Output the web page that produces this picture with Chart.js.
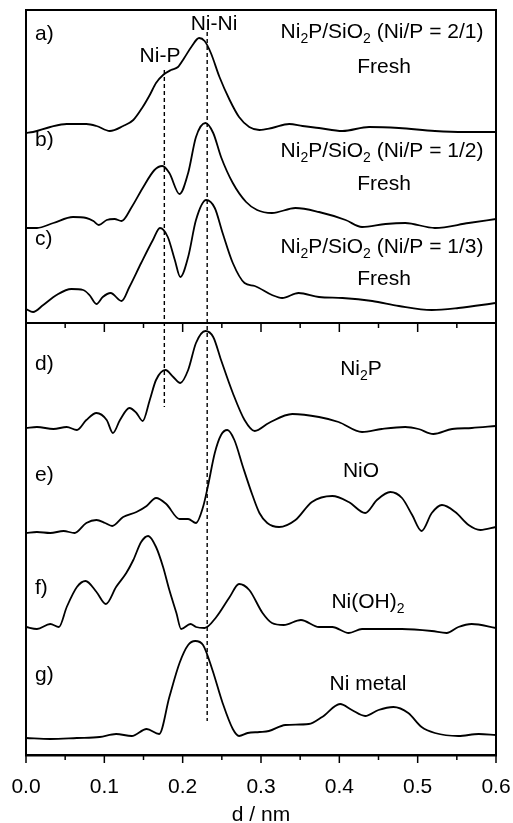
<!DOCTYPE html>
<html><head><meta charset="utf-8">
<script src="https://cdn.jsdelivr.net/npm/chart.js@4.4.1/dist/chart.umd.min.js"></script>
<style>html,body{margin:0;padding:0;background:#fff;}#wrap{width:513px;height:823px;position:relative;}</style>
</head><body><div id="wrap"><canvas id="c"></canvas></div>
<script>
// ---- data (d / nm vs. stacked FT magnitude, arbitrary units) ----
const xMajorTicks = [0, 0.1, 0.2, 0.3, 0.4, 0.5, 0.6];
const xMinorTicks = [0.05, 0.15, 0.25, 0.35, 0.45, 0.55];
const panelDividerY = 432;

const aX = [0,0.009,0.031,0.052,0.077,0.090,0.107,0.124,0.137,0.149,0.158,0.166,0.175,0.185,0.194,0.202,0.211,0.221,0.228,0.236,0.247,0.260,0.272,0.285,0.298,0.314,0.336,0.353,0.374,0.404,0.438,0.476,0.522,0.560,0.600];
const aY = [622,623,628,631,631,629,624,629,635,648,660,672,680,685,688,697,708,717,714,702,678,655,638,628,625,627,631,629,627,624,628,627,624,623,623];

const bX = [0,0.014,0.035,0.060,0.077,0.086,0.093,0.103,0.113,0.122,0.135,0.149,0.164,0.174,0.183,0.196,0.207,0.217,0.229,0.239,0.249,0.264,0.281,0.295,0.314,0.344,0.374,0.408,0.429,0.459,0.484,0.522,0.565,0.600];
const bY = [527,527,532,538,537,534,530,535,536,534,548,567,585,589,582,561,582,618,632,622,598,572,553,545,542,547,543,535,528,531,532,527,532,536];

const cX = [0,0.009,0.022,0.039,0.058,0.073,0.081,0.090,0.098,0.108,0.122,0.132,0.147,0.162,0.171,0.181,0.190,0.197,0.207,0.217,0.230,0.241,0.251,0.264,0.279,0.292,0.314,0.327,0.348,0.374,0.404,0.442,0.476,0.518,0.552,0.600];
const cY = [446,443,450,460,466,465,460,451,458,462,454,468,492,515,527,518,495,478,498,535,555,547,522,492,472,469,460,457,462,458,457,454,449,445,447,452];

const dX = [0,0.014,0.035,0.052,0.065,0.077,0.090,0.103,0.111,0.120,0.132,0.141,0.149,0.158,0.166,0.178,0.188,0.197,0.207,0.217,0.229,0.239,0.249,0.264,0.279,0.292,0.310,0.340,0.374,0.399,0.429,0.454,0.484,0.501,0.520,0.544,0.569,0.600];
const dY = [327,328,326,328,325,335,342,335,322,335,347,342,334,355,375,385,378,372,385,412,424,418,395,362,335,324,332,341,338,333,323,326,328,326,321,326,327,329];

const eX = [0,0.014,0.031,0.048,0.062,0.077,0.090,0.101,0.110,0.124,0.141,0.154,0.166,0.179,0.196,0.207,0.217,0.226,0.232,0.241,0.249,0.257,0.266,0.277,0.289,0.298,0.308,0.323,0.344,0.365,0.391,0.412,0.433,0.448,0.465,0.480,0.493,0.505,0.518,0.531,0.548,0.565,0.580,0.600];
const eY = [222,223,222,224,222,232,235,232,229,238,243,249,257,251,236,236,232,248,268,302,320,325,315,288,260,242,232,228,235,253,259,253,242,255,263,257,240,224,242,250,243,230,225,228];

const fX = [0,0.014,0.031,0.042,0.052,0.065,0.076,0.090,0.102,0.115,0.128,0.137,0.147,0.156,0.166,0.175,0.183,0.192,0.198,0.210,0.217,0.228,0.243,0.260,0.272,0.285,0.302,0.314,0.329,0.351,0.374,0.391,0.412,0.429,0.480,0.518,0.537,0.552,0.569,0.600];
const fY = [128,126,131,128,148,168,174,163,151,168,182,195,213,219,208,188,165,142,126,131,128,127,138,158,171,165,142,132,130,135,128,128,122,126,126,124,122,128,131,127];

const gX = [0,0.031,0.065,0.094,0.115,0.135,0.154,0.170,0.183,0.196,0.207,0.216,0.226,0.238,0.251,0.264,0.272,0.283,0.298,0.310,0.331,0.361,0.378,0.401,0.416,0.433,0.450,0.469,0.488,0.505,0.522,0.552,0.578,0.600];
const gY = [17,16,17,18,21,19,26,21,58,92,110,114,110,85,52,26,19,22,23,24,30,31,38,51,45,39,45,48,42,28,22,19,21,20];

const niPLineX = [0.1766, 0.1766];
const niPLineY = [685, 348];
const niNiLineX = [0.2313, 0.2313];
const niNiLineY = [723, 34];

const FONT = '"Liberation Sans", Arial, Helvetica, sans-serif';

function pts(xs, ys) { return xs.map((x, i) => ({x: x, y: ys[i]})); }
function curve(xs, ys) {
  return {data: pts(xs, ys), borderColor: '#000', borderWidth: 1.8, pointRadius: 0,
          cubicInterpolationMode: 'monotone', fill: false};
}
function dashed(xs, ys) {
  return {data: pts(xs, ys), borderColor: '#000', borderWidth: 1.4, pointRadius: 0,
          borderDash: [4, 3], tension: 0, fill: false};
}

// rich-text pieces: [text, isSubscript]
function drawRich(ctx, parts, cx, baseY, size) {
  const subSize = Math.round(size * 0.66);
  let total = 0;
  const widths = parts.map(p => {
    ctx.font = (p[1] ? subSize : size) + 'px ' + FONT;
    const w = ctx.measureText(p[0]).width;
    total += w;
    return w;
  });
  let x = cx - total / 2;
  ctx.textAlign = 'left';
  ctx.textBaseline = 'alphabetic';
  parts.forEach((p, i) => {
    ctx.font = (p[1] ? subSize : size) + 'px ' + FONT;
    ctx.fillText(p[0], x, baseY + (p[1] ? 5 : 0));
    x += widths[i];
  });
}

const decor = {
  id: 'decor',
  afterDatasetsDraw(chart) {
    const ctx = chart.ctx;
    const a = chart.chartArea;
    const xs = chart.scales.x, ys = chart.scales.y;
    ctx.save();
    ctx.strokeStyle = '#000';
    ctx.fillStyle = '#000';
    // frame
    ctx.lineWidth = 2;
    ctx.beginPath();
    ctx.moveTo(a.left, a.bottom); ctx.lineTo(a.left, a.top);
    ctx.lineTo(a.right, a.top); ctx.lineTo(a.right, a.bottom);
    ctx.stroke();
    // divider between panels
    const dy = ys.getPixelForValue(panelDividerY);
    ctx.lineWidth = 2;
    ctx.beginPath(); ctx.moveTo(a.left, dy); ctx.lineTo(a.right, dy); ctx.stroke();
    ctx.lineWidth = 1.5;
    xMajorTicks.forEach(v => {
      const px = xs.getPixelForValue(v);
      ctx.beginPath(); ctx.moveTo(px, dy); ctx.lineTo(px, dy + 9); ctx.stroke();
      ctx.beginPath(); ctx.moveTo(px, a.bottom); ctx.lineTo(px, a.bottom + 8); ctx.stroke();
    });
    xMinorTicks.forEach(v => {
      const px = xs.getPixelForValue(v);
      ctx.beginPath(); ctx.moveTo(px, dy); ctx.lineTo(px, dy + 5); ctx.stroke();
      ctx.beginPath(); ctx.moveTo(px, a.bottom); ctx.lineTo(px, a.bottom + 5); ctx.stroke();
    });

    const S = 21;
    // panel letters
    ctx.font = S + 'px ' + FONT;
    ctx.textAlign = 'left';
    ctx.textBaseline = 'alphabetic';
    [['a)', 40], ['b)', 146], ['c)', 245], ['d)', 370], ['e)', 481], ['f)', 594], ['g)', 681]]
      .forEach(l => ctx.fillText(l[0], a.left + 9, l[1]));
    // peak labels
    drawRich(ctx, [['Ni-P', 0]], 160, 62, S);
    drawRich(ctx, [['Ni-Ni', 0]], 214, 30, S);
    // sample labels
    const cxR = 382;
    drawRich(ctx, [['Ni', 0], ['2', 1], ['P/SiO', 0], ['2', 1], [' (Ni/P = 2/1)', 0]], cxR, 38, S);
    drawRich(ctx, [['Fresh', 0]], cxR + 2, 73, S);
    drawRich(ctx, [['Ni', 0], ['2', 1], ['P/SiO', 0], ['2', 1], [' (Ni/P = 1/2)', 0]], cxR, 157, S);
    drawRich(ctx, [['Fresh', 0]], cxR + 2, 190, S);
    drawRich(ctx, [['Ni', 0], ['2', 1], ['P/SiO', 0], ['2', 1], [' (Ni/P = 1/3)', 0]], cxR, 253, S);
    drawRich(ctx, [['Fresh', 0]], cxR + 2, 285, S);
    drawRich(ctx, [['Ni', 0], ['2', 1], ['P', 0]], 361, 375, S);
    drawRich(ctx, [['NiO', 0]], 361, 477, S);
    drawRich(ctx, [['Ni(OH)', 0], ['2', 1]], 368, 608, S);
    drawRich(ctx, [['Ni metal', 0]], 368, 690, S);
    ctx.restore();
  }
};

new Chart(document.getElementById('c'), {
  type: 'line',
  data: {
    datasets: [
      curve(aX, aY), curve(bX, bY), curve(cX, cY), curve(dX, dY),
      curve(eX, eY), curve(fX, fY), curve(gX, gY),
      dashed(niPLineX, niPLineY), dashed(niNiLineX, niNiLineY)
    ]
  },
  options: {
    responsive: true,
    maintainAspectRatio: false,
    animation: false,
    devicePixelRatio: 1,
    layout: {padding: {left: 26, right: 17, top: 10, bottom: 0}},
    plugins: {legend: {display: false}, tooltip: {enabled: false}},
    scales: {
      x: {
        type: 'linear', min: 0, max: 0.6,
        afterBuildTicks: s => { s.ticks = xMajorTicks.map(v => ({value: v})); },
        afterFit: s => { s.height = 68; },
        ticks: {color: '#000', font: {size: 21, family: FONT}, padding: 0, maxRotation: 0,
                autoSkip: false, callback: v => Number(v).toFixed(1)},
        grid: {display: true, drawOnChartArea: false, drawTicks: true, tickLength: 20,
               tickColor: 'rgba(0,0,0,0)', color: 'rgba(0,0,0,0)'},
        border: {display: true, color: '#000', width: 2.5},
        title: {display: true, text: 'd / nm', color: '#000', font: {size: 21, family: FONT},
                padding: {top: 2, bottom: -5}}
      },
      y: {display: false, min: 0, max: 745}
    }
  },
  plugins: [decor]
});
</script>
</body></html>
